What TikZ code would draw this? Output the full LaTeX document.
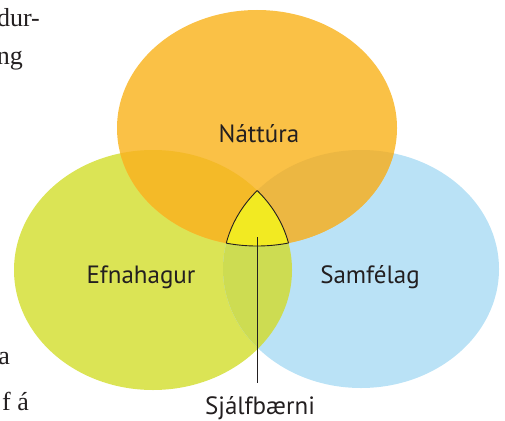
\documentclass[tikz,border=0pt]{standalone}
\usepackage{fontspec}
\setmainfont{Liberation Serif}
\newfontfamily\lblfont{PT Sans}
\definecolor{cO}{HTML}{FAC146}
\definecolor{cG}{HTML}{DBE455}
\definecolor{cB}{HTML}{BAE2F6}
\definecolor{cOG}{HTML}{F4BA28}
\definecolor{cOB}{HTML}{ECB742}
\definecolor{cGB}{HTML}{CDDC52}
\definecolor{cY}{HTML}{F2EA22}
\definecolor{txt}{HTML}{231F20}
\newcommand\ellO{(257,128) ellipse [x radius=140pt, y radius=118pt]}
\newcommand\ellG{(153,270) ellipse [x radius=139pt, y radius=120pt]}
\newcommand\ellB{(361,269) ellipse [x radius=138pt, y radius=119pt]}
\tikzset{
  lbl/.style={font=\lblfont\fontsize{25}{28}\selectfont, text=txt, inner sep=0pt, anchor=base},
  body/.style={font=\fontsize{26}{30}\selectfont, text=txt, inner sep=0pt, anchor=base east},
  edge/.style={draw=txt, line width=0.9pt}
}
\begin{document}
\begin{tikzpicture}[x=1pt,y=-1pt]
\useasboundingbox (0,0) rectangle (505,420);
\clip (0,0) rectangle (505,420);
% base fills
\fill[cG] \ellG;
\fill[cB] \ellB;
\fill[cO] \ellO;
% pairwise overlaps
\begin{scope}\clip \ellG; \fill[cGB] \ellB; \end{scope}
\begin{scope}\clip \ellG; \fill[cOG] \ellO; \end{scope}
\begin{scope}\clip \ellB; \fill[cOB] \ellO; \end{scope}
% triple overlap
\begin{scope}\clip \ellG; \clip \ellB; \fill[cY] \ellO; \end{scope}
\begin{scope}\clip \ellG; \clip \ellB; \draw[edge] \ellO; \end{scope}
\begin{scope}\clip \ellO; \clip \ellB; \draw[edge] \ellG; \end{scope}
\begin{scope}\clip \ellO; \clip \ellG; \draw[edge] \ellB; \end{scope}
% labels
\node[lbl] (nat) at (259,142) {Náttúra};
\node[lbl] (efn) at (141,283) {Efnahagur};
\node[lbl] (sam) at (370,283) {Samfélag};
\node[lbl] (sja) at (260,414) {Sjálfbærni};
\coordinate (tb) at (257,237);
\coordinate (le) at (257,383);
\draw[edge] (tb) -- (le);
% surrounding body text fragments
\node[body] (b1) at (40,27) {dur-};
\node[body] (b2) at (23,64) {ng};
\node[body] (b3) at (10,364) {a};
\node[body] (b4) at (29,410) {f á};
\end{tikzpicture}
\end{document}
